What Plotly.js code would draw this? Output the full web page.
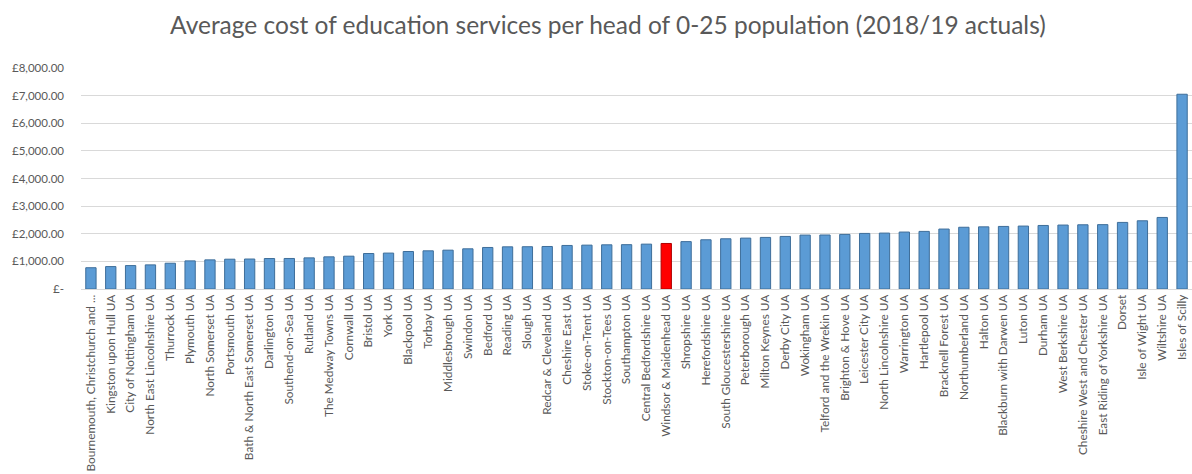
<!DOCTYPE html>
<html>
<head>
<meta charset="utf-8">
<script src="https://cdn.plot.ly/plotly-3.0.1.min.js"></script>
<style>html,body{margin:0;padding:0;background:#fff;}#chart{width:1192px;height:474px;}</style>
</head>
<body>
<div id="chart"></div>
<script>
const authorities = [
  "Bournemouth, Christchurch and ...", "Kingston upon Hull UA", "City of Nottingham UA",
  "North East Lincolnshire UA", "Thurrock UA", "Plymouth UA", "North Somerset UA",
  "Portsmouth UA", "Bath & North East Somerset UA", "Darlington UA", "Southend-on-Sea UA",
  "Rutland UA", "The Medway Towns UA", "Cornwall UA", "Bristol UA", "York UA",
  "Blackpool UA", "Torbay UA", "Middlesbrough UA", "Swindon UA", "Bedford UA",
  "Reading UA", "Slough UA", "Redcar & Cleveland UA", "Cheshire East UA",
  "Stoke-on-Trent UA", "Stockton-on-Tees UA", "Southampton UA", "Central Bedfordshire UA",
  "Windsor & Maidenhead UA", "Shropshire UA", "Herefordshire UA", "South Gloucestershire UA",
  "Peterborough UA", "Milton Keynes UA", "Derby City UA", "Wokingham UA",
  "Telford and the Wrekin UA", "Brighton & Hove UA", "Leicester City UA",
  "North Lincolnshire UA", "Warrington UA", "Hartlepool UA", "Bracknell Forest UA",
  "Northumberland UA", "Halton UA", "Blackburn with Darwen UA", "Luton UA", "Durham UA",
  "West Berkshire UA", "Cheshire West and Chester UA", "East Riding of Yorkshire UA",
  "Dorset", "Isle of Wight UA", "Wiltshire UA", "Isles of Scilly"
];
const costPerHead = [
  770, 812, 848, 873, 933, 1018, 1055, 1079, 1085, 1103, 1105,
  1127, 1164, 1188, 1285, 1300, 1357, 1382, 1406, 1455, 1503,
  1527, 1530, 1539, 1576, 1588, 1600, 1605, 1624, 1648, 1715,
  1782, 1818, 1842, 1867, 1903, 1952, 1955, 1976, 2012, 2024,
  2061, 2085, 2170, 2235, 2250, 2265, 2278, 2300, 2315, 2325,
  2330, 2410, 2470, 2590, 7050
];
const highlighted = "Windsor & Maidenhead UA";
const yTickValues = [0, 1000, 2000, 3000, 4000, 5000, 6000, 7000, 8000];
const yTickLabels = ["£-", "£1,000.00", "£2,000.00", "£3,000.00", "£4,000.00", "£5,000.00", "£6,000.00", "£7,000.00", "£8,000.00"];
const chartTitle = "Average cost of education services per head of 0-25 population (2018/19 actuals)";

const fill = authorities.map(a => a === highlighted ? "#FF0000" : "#5B9BD5");
const edge = authorities.map(a => a === highlighted ? "#B00000" : "#3E6E9A");

const trace = {
  type: "bar",
  x: authorities,
  y: costPerHead,
  marker: {color: fill, line: {color: edge, width: 1}},
  hoverinfo: "x+y"
};

const layout = {
  width: 1192, height: 474,
  paper_bgcolor: "#ffffff", plot_bgcolor: "#ffffff",
  margin: {l: 81, r: 0, t: 68, b: 185, pad: 0},
  bargap: 0.48,
  showlegend: false,
  title: {
    text: chartTitle,
    x: 0.51, xanchor: "center", y: 0.947, yanchor: "middle",
    font: {family: "Lato, 'Open Sans', sans-serif", size: 24.5, color: "#595959"}
  },
  xaxis: {
    type: "category",
    tickangle: -90,
    tickfont: {family: "Lato, 'Open Sans', sans-serif", size: 11.8, color: "#595959"},
    showgrid: false, zeroline: false,
    showline: true, linecolor: "#D9D9D9", linewidth: 1,
    ticks: "", automargin: false,
    range: [-0.5, authorities.length - 0.5]
  },
  yaxis: {
    range: [0, 8000],
    tickvals: yTickValues,
    ticktext: yTickLabels,
    tickfont: {family: "Lato, 'Open Sans', sans-serif", size: 11.5, color: "#595959"},
    showgrid: true, gridcolor: "#D9D9D9", gridwidth: 1,
    zeroline: false, showline: false, ticks: "",
    ticklabelstandoff: 16,
    automargin: false
  }
};

Plotly.newPlot("chart", [trace], layout, {displayModeBar: false, staticPlot: true});
</script>
</body>
</html>
